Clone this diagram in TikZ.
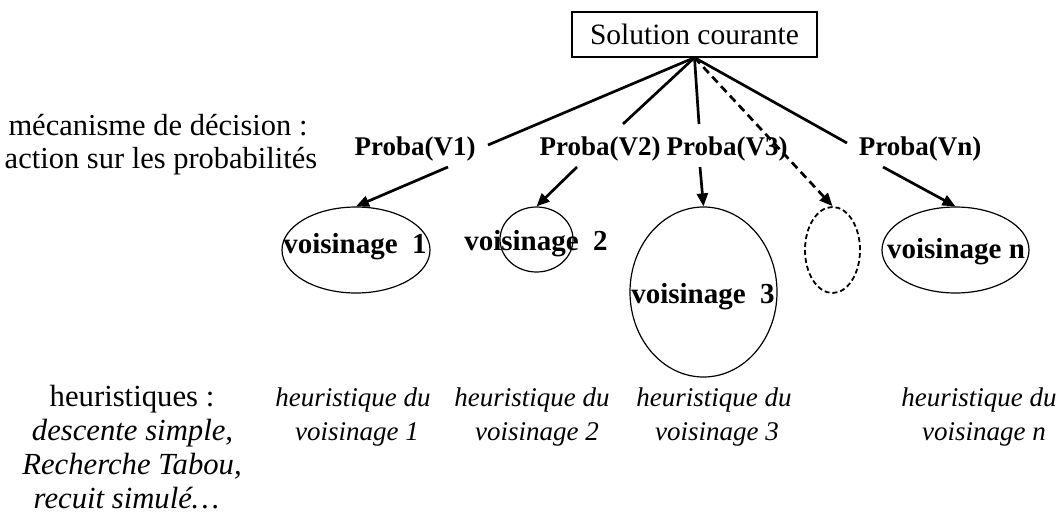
\documentclass[tikz,border=0pt]{standalone}
\usepackage{fontspec}
\setmainfont{Liberation Serif}
\usetikzlibrary{arrows.meta,shapes.geometric}
\begin{document}
\begin{tikzpicture}[x=1pt,y=-1pt,
  lbl/.style={font=\fontsize{30.5}{34}\selectfont, inner sep=0pt, anchor=base},
  itl/.style={font=\fontsize{27}{33}\selectfont\itshape, inner sep=0pt, anchor=base},
  itlL/.style={font=\fontsize{30.7}{34}\selectfont\itshape, inner sep=0pt, anchor=base},
  prob/.style={font=\fontsize{27}{30}\selectfont\bfseries, inner sep=0pt, anchor=base},
  vois/.style={font=\fontsize{29}{32}\selectfont\bfseries, inner sep=0pt, anchor=base},
  zone/.style={ellipse, draw, line width=1.2pt, inner sep=0pt},
  link/.style={line width=2.7pt},
  arr/.style={line width=2.7pt, -{Triangle[length=13pt,width=11pt]}},
]
\useasboundingbox (0,0) rectangle (1060,517);

% current solution
\node[draw, line width=1.2pt, minimum width=245pt, minimum height=45pt, inner sep=0pt,
      font=\fontsize{29.5}{34}\selectfont] (sol) at (694.5,34.5) {Solution courante};

% left texts
\node[lbl] (m1) at (158,135) {mécanisme de décision :};
\node[lbl] (m2) at (161,168) {action sur les probabilités};
\node[lbl, font=\fontsize{30.7}{34}\selectfont] (h0) at (132,406) {heuristiques :};
\node[itlL] (h1) at (132.5,440) {descente simple,};
\node[itlL] (h2) at (132,474) {Recherche Tabou,};
\node[itlL] (h3) at (126.5,508) {recuit simulé\ldots};

% probabilities
\node[prob] (p1) at (415,155) {Proba(V1)};
\node[prob] (p2) at (600,155) {Proba(V2)};
\node[prob] (p3) at (727,155) {Proba(V3)};
\node[prob] (pn) at (920,155) {Proba(Vn)};

% neighbourhoods
\node[zone, minimum width=148pt, minimum height=86pt] (e1) at (356,250) {};
\node[zone, minimum width=73pt, minimum height=65pt] (e2) at (536.5,239.5) {};
\node[zone, minimum width=147pt, minimum height=170pt] (e3) at (703.5,292) {};
\node[zone, minimum width=55pt, minimum height=86pt, line width=1.8pt, dash pattern=on 5pt off 3pt] (ed) at (832.5,250) {};
\node[zone, minimum width=147pt, minimum height=86pt] (en) at (955.5,250) {};

\node[vois] (v1) at (355,253) {voisinage\ \ 1};
\node[vois] (v2) at (536,250) {voisinage\ \ 2};
\node[vois] (v3) at (703,303) {voisinage\ \ 3};
\node[vois] (vn) at (956,258) {voisinage n};

% heuristics per neighbourhood
\node[itl] (t1a) at (353,406) {heuristique du};
\node[itl] (t1b) at (357,440) {voisinage 1};
\node[itl] (t2a) at (532,406) {heuristique du};
\node[itl] (t2b) at (537,440) {voisinage 2};
\node[itl] (t3a) at (714,406) {heuristique du};
\node[itl] (t3b) at (717,440) {voisinage 3};
\node[itl] (tna) at (979,406) {heuristique du};
\node[itl] (tnb) at (984,440) {voisinage n};

% connector ends
\coordinate (l1) at (488,145);
\coordinate (l2) at (623,124);
\coordinate (l3) at (699,124);
\coordinate (ln) at (847,143);
\coordinate (a1) at (448,167);
\coordinate (a2) at (577,167);
\coordinate (a3) at (700,167);
\coordinate (an) at (883,167);

\draw[link] (sol.south) -- (l1);
\draw[link] (sol.south) -- (l2);
\draw[link] (sol.south) -- (l3);
\draw[link] (sol.south) -- (ln);
\draw[arr, dash pattern=on 8pt off 5pt] (sol.south) -- (ed.north);

\draw[arr] (a1) -- (e1.north);
\draw[arr] (a2) -- (e2.north);
\draw[arr] (a3) -- (e3.north);
\draw[arr] (an) -- (en.north);
\end{tikzpicture}
\end{document}
